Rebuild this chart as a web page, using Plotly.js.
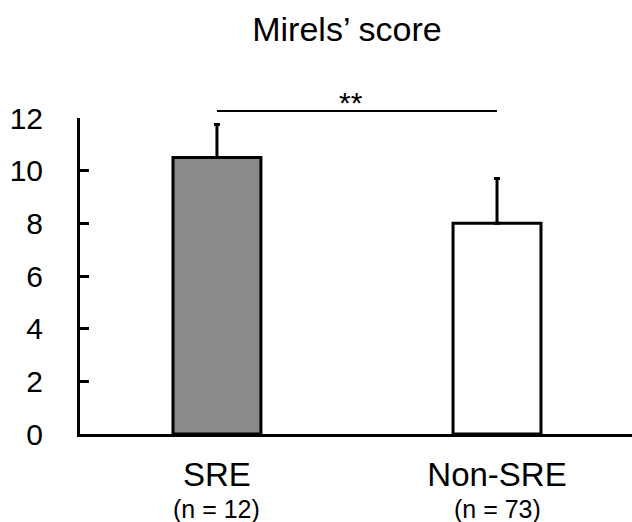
<!DOCTYPE html>
<html><head><meta charset="utf-8">
<script src="https://cdn.plot.ly/plotly-3.0.1.min.js"></script>
<style>body{margin:0;background:#fff}</style></head>
<body><div id="chart" style="width:632px;height:522px"></div>
<script>
const categories = ['SRE', 'Non-SRE'];
const sampleSizes = ['(n = 12)', '(n = 73)'];
const meanScores = [10.5, 8.0];
const sdUpper = [1.25, 1.7];
const barColors = ['#8a8a8a', '#ffffff'];
const yTicks = [0, 2, 4, 6, 8, 10, 12];
const sigLabel = '**';
const sigLevel = 12.27;
const yMax = 12;

const FONT = 'Liberation Sans, Arial, sans-serif';

const trace = {
  type: 'bar',
  x: categories,
  y: meanScores,
  width: 0.314,
  marker: {color: barColors, line: {color: '#000', width: 3}},
  error_y: {type: 'data', symmetric: false, array: sdUpper, arrayminus: [0, 0],
            color: '#000', thickness: 3, width: 3},
  hoverinfo: 'skip'
};

const annotations = categories.map((c, i) => ({
  xref: 'x', yref: 'paper', x: c, y: -0.238, yanchor: 'middle', xanchor: 'center',
  text: sampleSizes[i], showarrow: false, font: {family: FONT, size: 25, color: '#000'}
}));
annotations.push({
  xref: 'x', yref: 'paper', x: 0.48, y: (sigLevel + 0.3) / yMax, yanchor: 'middle', xanchor: 'center',
  text: sigLabel, showarrow: false, font: {family: FONT, size: 30, color: '#000'}
});

const layout = {
  width: 632, height: 522,
  margin: {l: 80, r: 0, t: 118, b: 88, pad: 0},
  paper_bgcolor: '#fff', plot_bgcolor: '#fff',
  showlegend: false,
  title: {text: 'Mirels\u2019 score', font: {family: FONT, size: 34, color: '#000'},
          xref: 'container', x: 347 / 632, xanchor: 'center',
          yref: 'container', y: 1 - 29 / 522, yanchor: 'middle'},
  xaxis: {type: 'category', range: [-0.489, 1.482], showline: true, linewidth: 3, linecolor: '#000',
          ticks: '', showgrid: false, zeroline: false,
          tickfont: {family: FONT, size: 33, color: '#000'}, ticklabelstandoff: 9},
  yaxis: {range: [0, yMax], tickvals: yTicks, ticktext: yTicks.map(String),
          showline: true, linewidth: 3, linecolor: '#000',
          ticks: 'inside', ticklen: 9, tickwidth: 3, tickcolor: '#000',
          showgrid: false, zeroline: false,
          tickfont: {family: FONT, size: 30, color: '#000'}, ticklabelstandoff: 28},
  shapes: [{type: 'line', xref: 'x', yref: 'paper', x0: 0, x1: 1,
            y0: sigLevel / yMax, y1: sigLevel / yMax, line: {color: '#000', width: 2}}],
  annotations: annotations
};

Plotly.newPlot('chart', [trace], layout, {displayModeBar: false, staticPlot: true});
</script></body></html>
